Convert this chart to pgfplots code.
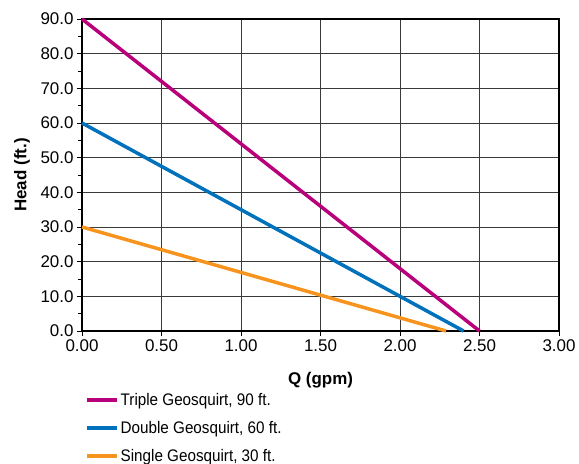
\documentclass[border=0pt]{standalone}
\usepackage{fontspec}
\setmainfont{Liberation Sans}
\newfontfamily\narrowfont[FakeStretch=0.91]{Liberation Sans}
\usepackage{pgfplots}
\pgfplotsset{compat=1.18}
\definecolor{triplecol}{HTML}{B8007A}
\definecolor{doublecol}{HTML}{0072BC}
\definecolor{singlecol}{HTML}{F7941D}
\definecolor{gridcol}{HTML}{3A3A3A}
\begin{document}
\begin{tikzpicture}
\path[use as bounding box] (0,0) rectangle (579bp,464bp);
\begin{axis}[
    at={(82bp,133bp)}, anchor=south west,
    scale only axis,
    width=477bp, height=312bp,
    xmin=0, xmax=3, ymin=0, ymax=90,
    xtick={0,0.5,...,3}, ytick={0,10,...,90},
    minor y tick num=1,
    grid=major,
    major grid style={gridcol, line width=0.9bp},
    axis line style={black, line width=2.8bp},
    tick style={black, line width=0.8bp},
    tick align=outside,
    major tick length=5bp, minor tick length=4bp,
    xtick pos=bottom, ytick pos=left,
    /pgf/number format/assume math mode=true,
    xticklabel style={/pgf/number format/.cd, fixed, fixed zerofill, precision=2},
    yticklabel style={/pgf/number format/.cd, fixed, fixed zerofill, precision=1},
    tick label style={font=\fontsize{17}{19}\selectfont},
    xlabel={\bfseries Q (gpm)},
    ylabel={\bfseries Head (ft.)},
    label style={font=\fontsize{17}{19}\selectfont},
    xlabel style={at={(axis description cs:0.5,-0.157)}, anchor=center},
    ylabel style={at={(axis description cs:-0.126,0.5)}, anchor=center},
    legend style={at={(3bp,-60bp)}, anchor=north west, draw=none, fill=none,
        font=\narrowfont\fontsize{16.8}{18}\selectfont,
        row sep=10.5bp, cells={anchor=west}, inner sep=0pt},
    legend image code/.code={\draw[#1, line width=3.5bp] (0bp,0bp) -- (30bp,0bp);},
    clip=false,
]
\addplot[triplecol, line width=3.5bp] coordinates {(0,90) (2.5,0)};
\addlegendentry{Triple Geosquirt, 90 ft.}
\addplot[doublecol, line width=3.5bp] coordinates {(0,60) (2.4,0)};
\addlegendentry{Double Geosquirt, 60 ft.}
\addplot[singlecol, line width=3.5bp] coordinates {(0,30) (2.29,0)};
\addlegendentry{Single Geosquirt, 30 ft.}
\end{axis}
\end{tikzpicture}
\end{document}
